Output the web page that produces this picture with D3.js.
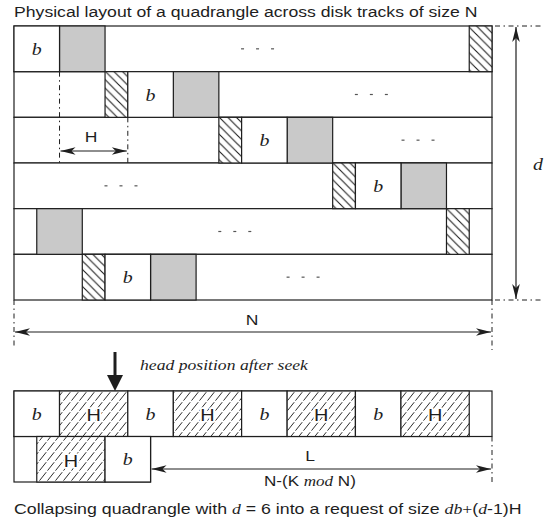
<!DOCTYPE html>
<html><head><meta charset="utf-8">
<script src="https://cdn.jsdelivr.net/npm/d3@7"></script>
<style>body{margin:0;background:#fff}svg{display:block}</style>
</head><body>
<svg id="c" width="546" height="527"></svg>
<script>
// ---- data (units along a track; N = 21 units) ----
const trackUnits = 21;
const trackRows = [0,1,2,3,4,5];          // d = 6 tracks
const blockLen = 2, gapLen = 2, headLen = 1, HLen = 3;
const trackBlocks = [[0,0],[1,5],[2,10],[3,15],[5,4]];       // [row, start] "b" blocks
const trackGaps   = [[0,2],[1,7],[2,12],[3,17],[4,1],[5,6]]; // grey blocks
const trackHeads  = [[0,20],[1,4],[2,9],[3,14],[4,19],[5,3]]; // hatched head-switch
const trackDots   = [[0,10.7],[1,15.7],[2,17.75],[3,4.7],[4,9.7],[5,12.7]];
const reqRows = [0,1];
const reqCells = [ // [row, kind, start, len]
  [0,"b",0,2],[0,"H",2,3],[0,"b",5,2],[0,"H",7,3],[0,"b",10,2],[0,"H",12,3],[0,"b",15,2],[0,"H",17,3],
  [1,"H",1,3],[1,"b",4,2]
];
const reqRowBLen = 6;
const titleText = "Physical layout of a quadrangle across disk tracks of size N";
const headText = "head position after seek";
const remainParts = [["N-(K ","s"],["mod","i"],[" N)","s"]];
const captionParts = [["Collapsing quadrangle with ","s"],["d","i"],[" = 6 into a request of size ","s"],["db","i"],["+","r"],["(","s"],["d","i"],["-1)H","s"]];

const svg = d3.select("#c");
const SANS = "'Liberation Sans', Arial, sans-serif";
const SERIF = "'Liberation Serif', 'Times New Roman', serif";
const INK = "#1e1e1e";

const x = d3.scaleLinear().domain([0, trackUnits]).range([14, 492]);
const yT = d3.scaleBand().domain(trackRows).range([26, 300]);
const yB = d3.scaleBand().domain(reqRows).range([391, 482]);

const defs = svg.append("defs");
const p1 = defs.append("pattern").attr("id","hatchA").attr("patternUnits","userSpaceOnUse")
  .attr("width",8.5).attr("height",8.5);
p1.append("rect").attr("width",8.5).attr("height",8.5).attr("fill","#fff");
p1.append("path").attr("d","M-1,-1 L9.5,9.5 M-3,5.5 L3,11.5 M5.5,-3 L11.5,3")
  .attr("stroke",INK).attr("stroke-width",1.1);
const p2 = defs.append("pattern").attr("id","hatchB").attr("patternUnits","userSpaceOnUse")
  .attr("width",8).attr("height",10);
p2.append("rect").attr("width",8).attr("height",10).attr("fill","#fff");
p2.append("path").attr("d","M0,10 L8,0 M-8,10 L0,0 M8,10 L16,0")
  .attr("stroke","#222").attr("stroke-width",0.95).attr("stroke-dasharray","10,2");

function arrowMarker(id){
  defs.append("marker").attr("id",id).attr("viewBox","-16 -6 18 12").attr("refX",0).attr("refY",0)
    .attr("markerWidth",18).attr("markerHeight",12).attr("markerUnits","userSpaceOnUse")
    .attr("orient","auto-start-reverse")
    .append("path").attr("d","M0,0 L-15,-3.8 L-11,0 L-15,3.8 Z").attr("fill",INK);
}
arrowMarker("ar");

function txt(g, xx, yy, parts, size, anchor, sx){
  const t = g.append("text").attr("font-size",size).attr("text-anchor",anchor||"start")
    .attr("fill",INK);
  parts.forEach(([s,k])=>{
    t.append("tspan").text(s)
      .attr("font-family", k==="s" ? SANS : SERIF)
      .attr("font-style", k==="i" ? "italic" : "normal");
  });
  t.attr("transform",`translate(${xx},${yy}) scale(${sx||1},1)`);
  return t;
}
function fitTxt(g, xx, yy, parts, size, width){
  const t = txt(g, xx, yy, parts, size, "start", 1);
  const w = t.node().getComputedTextLength();
  t.attr("transform",`translate(${xx},${yy}) scale(${width/w},1)`);
  return t;
}
const SX = 1.17;

// ---- title ----
fitTxt(svg, 14, 17, [[titleText,"s"]], 15, 464);

// ---- tracks ----
const gT = svg.append("g");
gT.selectAll(".row").data(trackRows).join("rect")
  .attr("x",x(0)).attr("y",d=>yT(d)).attr("width",x(trackUnits)-x(0)).attr("height",yT.bandwidth())
  .attr("fill","#fff").attr("stroke",INK).attr("stroke-width",1.2);
gT.selectAll(".gap").data(trackGaps).join("rect")
  .attr("x",d=>x(d[1])).attr("y",d=>yT(d[0])).attr("width",x(gapLen)-x(0)).attr("height",yT.bandwidth())
  .attr("fill","#c9c9c9").attr("stroke",INK).attr("stroke-width",1.2);
gT.selectAll(".hd").data(trackHeads).join("rect")
  .attr("x",d=>x(d[1])).attr("y",d=>yT(d[0])).attr("width",x(headLen)-x(0)).attr("height",yT.bandwidth())
  .attr("fill","url(#hatchA)").attr("stroke",INK).attr("stroke-width",1.2);
gT.selectAll(".blk").data(trackBlocks).join("rect")
  .attr("x",d=>x(d[1])).attr("y",d=>yT(d[0])).attr("width",x(blockLen)-x(0)).attr("height",yT.bandwidth())
  .attr("fill","#fff").attr("stroke",INK).attr("stroke-width",1.2);
trackBlocks.forEach(d=>{
  txt(gT, (x(d[1])+x(d[1]+blockLen))/2, yT(d[0])+yT.bandwidth()/2+6, [["b","i"]], 17, "middle", SX);
});
trackDots.forEach(d=>{
  const cy = yT(d[0])+yT.bandwidth()/2;
  [-15,0,15].forEach(o=>{
    gT.append("line").attr("x1",x(d[1])+o-1.5).attr("x2",x(d[1])+o+1.5).attr("y1",cy).attr("y2",cy)
      .attr("stroke","#555").attr("stroke-width",1.2);
  });
});

// ---- dimension lines ----
const DD = "5,3.5,1.5,3.5";
function dl(x1,y1,x2,y2){ svg.append("line").attr("x1",x1).attr("y1",y1).attr("x2",x2).attr("y2",y2)
  .attr("stroke",INK).attr("stroke-width",1).attr("stroke-dasharray",DD); }
dl(x(trackUnits)+3, yT(0), 542, yT(0));
dl(x(trackUnits)+3, yT(5)+yT.bandwidth(), 542, yT(5)+yT.bandwidth());
dl(x(0), yT(5)+yT.bandwidth(), x(0), 346);
dl(x(trackUnits), yT(5)+yT.bandwidth(), x(trackUnits), 350);
dl(x(2), yT(1), x(2), yT(3));
dl(x(5), yT(2), x(5), yT(3));
dl(x(trackUnits), yB(1), x(trackUnits), yB(1)+yB.bandwidth());

function arrow(x1,y1,x2,y2,both){
  const l = svg.append("line").attr("x1",x1).attr("y1",y1).attr("x2",x2).attr("y2",y2)
    .attr("stroke",INK).attr("stroke-width",1.2).attr("marker-end","url(#ar)");
  if(both) l.attr("marker-start","url(#ar)");
}
arrow(516, yT(0)+1, 516, yT(5)+yT.bandwidth()-1, true);
txt(svg, 538, 170, [["d","i"]], 17, "middle", SX);
arrow(x(2)+1, 151, x(5)-1, 151, true);
txt(svg, 91, 142, [["H","s"]], 15, "middle", SX);
arrow(x(0)+1, 332, x(trackUnits)-1, 332, true);
txt(svg, 252, 325, [["N","s"]], 15, "middle", SX);

// ---- head position arrow ----
svg.append("line").attr("x1",115).attr("x2",115).attr("y1",352).attr("y2",377)
  .attr("stroke",INK).attr("stroke-width",3);
svg.append("path").attr("d","M107,375 L123,375 L115,391 Z").attr("fill",INK);
fitTxt(svg, 140, 370, [[headText,"i"]], 15.5, 168);

// ---- request (collapsed) ----
const gB = svg.append("g");
gB.append("rect").attr("x",x(0)).attr("y",yB(0)).attr("width",x(trackUnits)-x(0)).attr("height",yB.bandwidth())
  .attr("fill","#fff").attr("stroke",INK).attr("stroke-width",1.2);
gB.append("rect").attr("x",x(0)).attr("y",yB(1)).attr("width",x(reqRowBLen)-x(0)).attr("height",yB.bandwidth())
  .attr("fill","#fff").attr("stroke",INK).attr("stroke-width",1.2);
gB.selectAll(".rc").data(reqCells).join("rect")
  .attr("x",d=>x(d[2])).attr("y",d=>yB(d[0])).attr("width",d=>x(d[3])-x(0)).attr("height",yB.bandwidth())
  .attr("fill",d=>d[1]==="H"?"url(#hatchB)":"#fff").attr("stroke",INK).attr("stroke-width",1.2);
reqCells.forEach(d=>{
  const cx = (x(d[2])+x(d[2]+d[3]))/2, cy = yB(d[0])+yB.bandwidth()/2;
  if(d[1]==="H"){
    txt(gB, cx, cy+7.5, [["H","s"]], 17, "middle", SX)
      .attr("stroke","#fff").attr("stroke-width",3.5).attr("paint-order","stroke").attr("stroke-linejoin","round");
  } else {
    txt(gB, cx, cy+6, [["b","i"]], 17, "middle", SX);
  }
});
arrow(x(reqRowBLen)+1, 469, x(trackUnits)-1, 469, true);
txt(svg, 310, 461, [["L","s"]], 15, "middle", SX);
fitTxt(svg, 264, 486, remainParts, 15, 92);

// ---- caption ----
fitTxt(svg, 14, 514, captionParts, 15, 508);
</script>
</body></html>
